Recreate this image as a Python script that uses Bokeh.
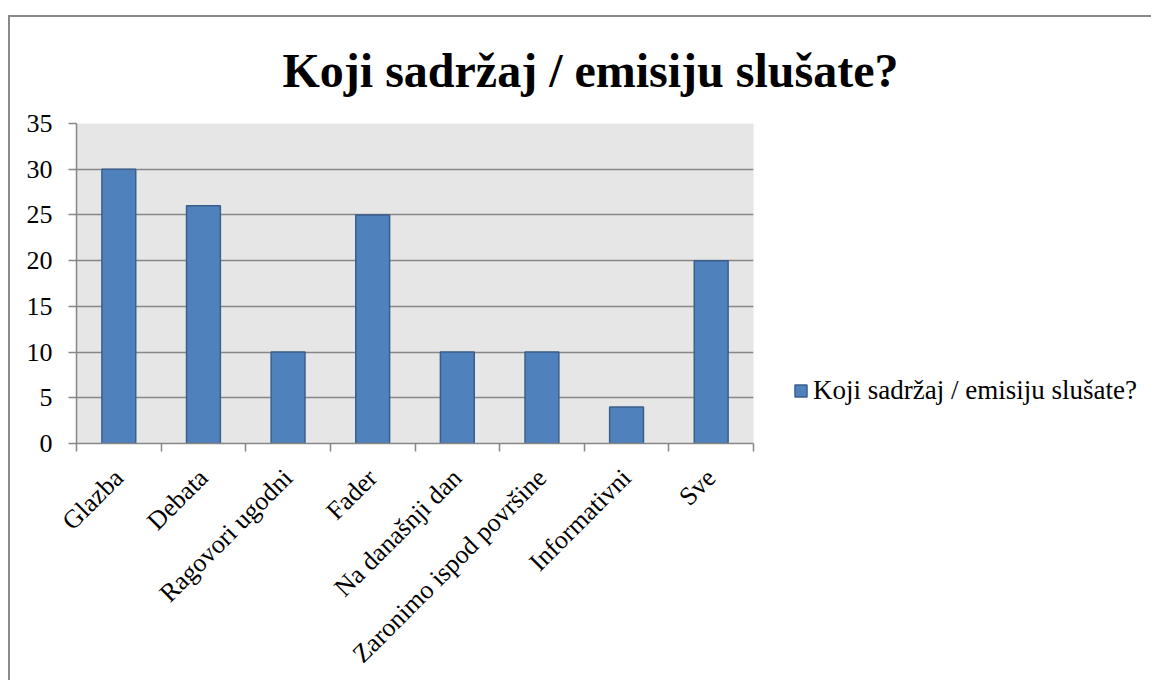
from bokeh.plotting import figure
from bokeh.models import (ColumnDataSource, FixedTicker, Legend, LegendItem, Range1d, Title)
from bokeh.embed import file_html
from bokeh.resources import INLINE
import math

categories = ["Glazba", "Debata", "Ragovori ugodni", "Fader", "Na današnji dan",
              "Zaronimo ispod površine", "Informativni", "Sve"]
values = [30, 26, 10, 25, 10, 10, 4, 20]
y_ticks = [0, 5, 10, 15, 20, 25, 30, 35]
title_text = "Koji sadržaj / emisiju slušate?"
series_name = "Koji sadržaj / emisiju slušate?"

FONT = "Liberation Serif"
GRAY = "#878787"

centers = [i + 0.5 for i in range(len(categories))]
bounds = list(range(len(categories) + 1))
src = ColumnDataSource(dict(x=centers, top=values, cat=categories))

p = figure(frame_width=677, frame_height=320, output_backend="svg", toolbar_location=None,
           x_range=Range1d(0, len(categories)), y_range=Range1d(0, 35),
           min_border_left=66, min_border_right=398, min_border_top=106, min_border_bottom=237,
           title=None,
           styles={"margin-top": "15px", "margin-left": "8px",
                   "border-top": "2px solid #8a8a8a",
                   "border-left": "2px solid #8a8a8a"})

p.background_fill_color = "#e6e6e6"
p.border_fill_color = "white"
p.outline_line_color = None

r = p.vbar(x="x", top="top", bottom=0, width=0.4, source=src,
           fill_color="#4f81bd", line_color="#3a5f8c", line_width=1.5)

# axes
xa = p.xaxis[0]
xa.ticker = FixedTicker(ticks=centers, minor_ticks=bounds)
xa.major_label_overrides = {c: n for c, n in zip(centers, categories)}
xa.major_tick_line_color = None
xa.minor_tick_line_color = GRAY
xa.minor_tick_line_width = 1.5
xa.minor_tick_out = 8
xa.minor_tick_in = 0
xa.axis_line_color = GRAY
xa.axis_line_width = 1.5
xa.major_label_orientation = math.pi / 4
xa.major_label_text_font = FONT
xa.major_label_text_font_size = "26px"
xa.major_label_text_color = "black"
xa.major_label_standoff = 22

ya = p.yaxis[0]
ya.ticker = FixedTicker(ticks=y_ticks)
ya.major_tick_line_color = GRAY
ya.major_tick_line_width = 1.5
ya.major_tick_out = 8
ya.major_tick_in = 0
ya.minor_tick_line_color = None
ya.axis_line_color = GRAY
ya.axis_line_width = 1.5
ya.major_label_text_font = FONT
ya.major_label_text_font_size = "26px"
ya.major_label_text_color = "black"
ya.major_label_standoff = 16

p.xgrid.grid_line_color = None
p.ygrid.ticker = FixedTicker(ticks=y_ticks)
p.ygrid.grid_line_color = GRAY
p.ygrid.grid_line_width = 1.5

t = Title(text=title_text, text_font=FONT, text_font_size="48px", text_font_style="bold",
          text_color="black", align="left", offset=206, standoff=50,
          vertical_align="top", text_line_height=0.7)
p.add_layout(t, "above")

legend = Legend(items=[LegendItem(label=series_name, renderers=[r])],
                location=(40, 37), orientation="vertical",
                label_text_font=FONT, label_text_font_size="27px", label_text_color="black",
                glyph_width=15, glyph_height=15, label_standoff=5,
                padding=0, margin=0, spacing=0,
                border_line_color=None, background_fill_alpha=0)
p.add_layout(legend, "right")

open("out.html", "w").write(file_html(p, INLINE))
